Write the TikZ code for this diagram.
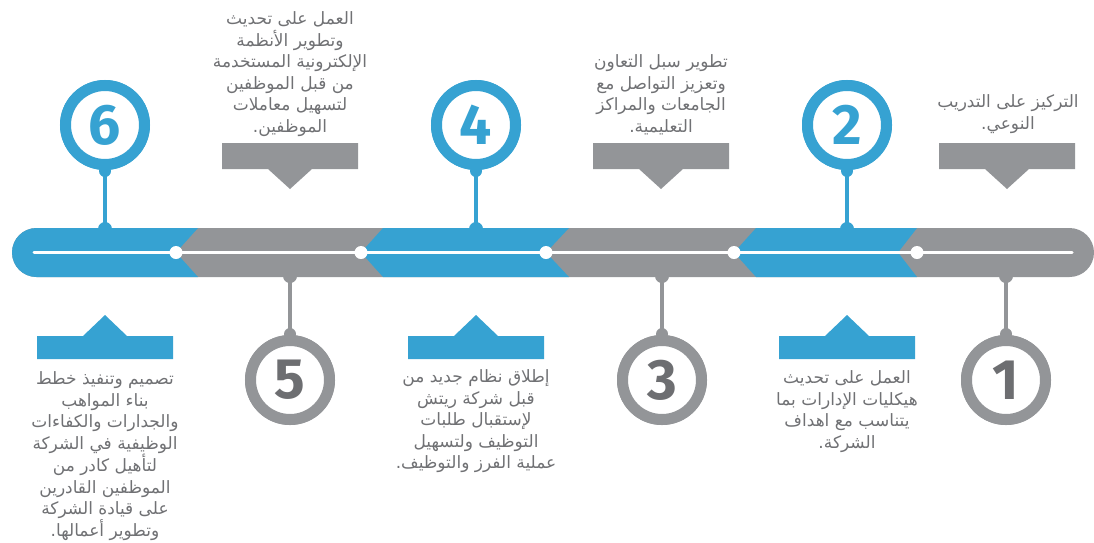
\documentclass[tikz,border=0pt]{standalone}
\usepackage{fontspec}
\TeXXeTstate=1
\newfontfamily\arabicfont[Script=Arabic]{DejaVu Sans}
\newfontfamily\digfont{Fira Sans}
\definecolor{tlblue}{HTML}{36A2D2}
\definecolor{tlgray}{HTML}{939598}
\definecolor{tldark}{HTML}{6D6E71}
\definecolor{tltext}{HTML}{707174}
\newcommand{\arl}[1]{\beginR#1\endR}
\tikzset{
  ring/.style={circle, draw=#1, line width=11pt, fill=white, minimum size=79pt, inner sep=0pt,
               font=\digfont\bfseries\fontsize{57}{57}\selectfont},
  bluering/.style={ring=tlblue, text=tlblue},
  grayring/.style={ring=tlgray, text=tldark},
  stem/.style={line width=3.2pt},
  txt/.style={font=\arabicfont\fontsize{17}{21.5}\selectfont, text=tltext, align=center, inner sep=0pt},
  barwhite/.style={white, line width=3pt, line cap=round},
  dotw/.style={circle, fill=white, minimum size=13pt, inner sep=0pt}
}
\begin{document}
\begin{tikzpicture}[x=1pt,y=-1pt]
\useasboundingbox (0,0) rectangle (1094,542);
% bar base (gray)
\fill[tlgray] (36.5,228) -- (1069.5,228) arc[start angle=90,end angle=-90,radius=24.5pt] -- (36.5,277) arc[start angle=270,end angle=90,radius=24.5pt] -- cycle;
% blue segments
\fill[tlblue] (198,228) -- (36.5,228) arc[start angle=90,end angle=270,radius=24.5pt] -- (198,277) -- (176,252.5) -- cycle;
\fill[tlblue] (383,228) -- (569,228) -- (546,252.5) -- (569,277) -- (383,277) -- (361,252.5) -- cycle;
\fill[tlblue] (756,228) -- (917,228) -- (898,252.5) -- (917,277) -- (756,277) -- (734,252.5) -- cycle;
% white line and dots
\coordinate (ls) at (34,252.5);
\coordinate (le) at (1072,252.5);
\draw[barwhite] (ls) -- (le);
\node[dotw] (d1) at (176,252.5) {};
\node[dotw] (d2) at (361,252.5) {};
\node[dotw] (d3) at (546,252.5) {};
\node[dotw] (d4) at (734,252.5) {};
\node[dotw] (d5) at (917,252.5) {};
% attach points on bar
\coordinate (b6) at (105,229);
\coordinate (b4) at (476,229);
\coordinate (b2) at (847,229);
\coordinate (b5) at (290,276);
\coordinate (b3) at (662,276);
\coordinate (b1) at (1006,276);
% circles
\node[bluering] (c6) at (105,125) {6};
\node[bluering] (c4) at (476,125) {4};
\node[bluering] (c2) at (847,125) {2};
\node[grayring] (c5) at (290,380) {5};
\node[grayring] (c3) at (662,380) {3};
\node[grayring] (c1) at (1006,380) {1};
% stems
\foreach \n in {6,4,2} {
  \draw[stem, tlblue] (c\n.south) -- (b\n);
  \fill[tlblue] (b\n) circle (7pt);
  \fill[tlblue] ([yshift=-1pt]c\n.south) circle (6pt);
}
\foreach \n in {5,3,1} {
  \draw[stem, tlgray] (c\n.north) -- (b\n);
  \fill[tlgray] (b\n) circle (7pt);
  \fill[tlgray] ([yshift=1pt]c\n.north) circle (6pt);
}
% redraw rings over bumps
\node[bluering] at (c6) {6};
\node[bluering] at (c4) {4};
\node[bluering] at (c2) {2};
\node[grayring] at (c5) {5};
\node[grayring] at (c3) {3};
\node[grayring] at (c1) {1};
% callout boxes
\foreach \cx in {290,661,1007}
  \fill[tlgray] (\cx-68,143) -- (\cx+68,143) -- (\cx+68,169) -- (\cx+22,169) -- (\cx,189) -- (\cx-22,169) -- (\cx-68,169) -- cycle;
\foreach \cx in {105,476,847}
  \fill[tlblue] (\cx-68,359) -- (\cx+68,359) -- (\cx+68,336) -- (\cx+22,336) -- (\cx,315) -- (\cx-22,336) -- (\cx-68,336) -- cycle;
% texts
\node[txt] (t5) at (290,74) {\arl{العمل على تحديث}\\\arl{وتطوير الأنظمة}\\\arl{الإلكترونية المستخدمة}\\\arl{من قبل الموظفين}\\\arl{لتسهيل معاملات}\\\arl{الموظفين.}};
\node[txt] (t3) at (661,95) {\arl{تطوير سبل التعاون}\\\arl{وتعزيز التواصل مع}\\\arl{الجامعات والمراكز}\\\arl{التعليمية.}};
\node[txt] (t1) at (1008,114) {\arl{التركيز على التدريب}\\\arl{النوعي.}};
\node[txt] (t6) at (105,456) {\arl{تصميم وتنفيذ خطط}\\\arl{بناء المواهب}\\\arl{والجدارات والكفاءات}\\\arl{الوظيفية في الشركة}\\\arl{لتأهيل كادر من}\\\arl{الموظفين القادرين}\\\arl{على قيادة الشركة}\\\arl{وتطوير أعمالها.}};
\node[txt] (t4) at (476,421.5) {\arl{إطلاق نظام جديد من}\\\arl{قبل شركة ريتش}\\\arl{لإستقبال طلبات}\\\arl{التوظيف ولتسهيل}\\\arl{عملية الفرز والتوظيف.}};
\node[txt] (t2) at (847,411.5) {\arl{العمل على تحديث}\\\arl{هيكليات الإدارات بما}\\\arl{يتناسب مع اهداف}\\\arl{الشركة.}};
\end{tikzpicture}
\end{document}
